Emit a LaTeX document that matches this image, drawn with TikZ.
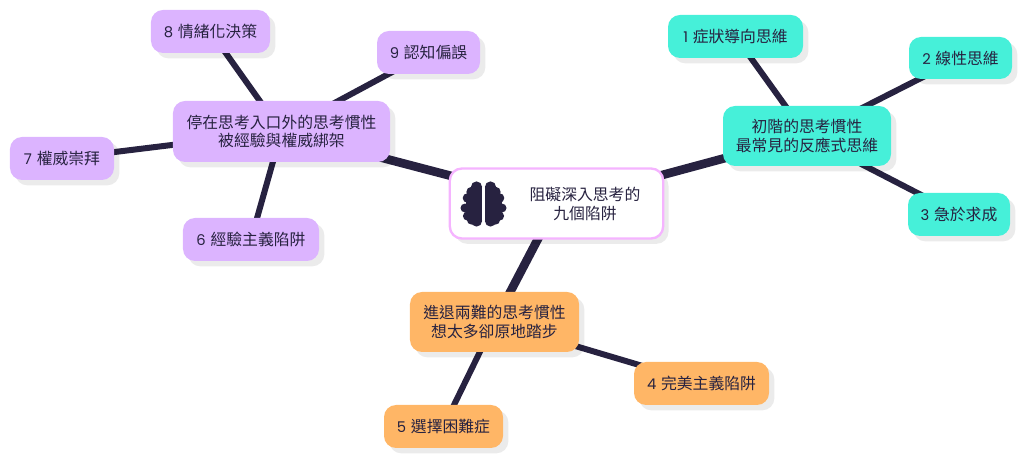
\documentclass[tikz,border=0pt]{standalone}
\usepackage{fontspec}
\setmainfont{Noto Sans CJK TC}
\newfontfamily\digitfont{Poppins}
\newcommand{\numtag}[1]{{\digitfont\fontsize{12.6}{15.6}\selectfont #1}\hspace{0.3em}}
\usetikzlibrary{shadows,backgrounds}
\definecolor{InkDark}{RGB}{39,34,64}
\definecolor{MintBox}{RGB}{70,240,217}
\definecolor{GrapeBox}{RGB}{220,180,255}
\definecolor{OrangeBox}{RGB}{255,182,102}
\definecolor{PinkEdge}{RGB}{245,180,255}
\tikzset{
  mapbox/.style={rounded corners=3.6mm,align=center,text=InkDark,inner sep=0pt,
    font=\fontsize{13.5}{15.6}\selectfont,
    drop shadow={shadow xshift=1.6mm,shadow yshift=-1.6mm,fill=black,opacity=0.08}},
  mint/.style={mapbox,fill=MintBox},
  grape/.style={mapbox,fill=GrapeBox},
  orange/.style={mapbox,fill=OrangeBox},
  mainlink/.style={line width=2.6mm,draw=InkDark},
  sublink/.style={line width=1.8mm,draw=InkDark}
}
\begin{document}
\begin{tikzpicture}[x=0.03cm,y=-0.03cm]
  \useasboundingbox (0,0) rectangle (1024,459);
  % centre
  \node[mapbox,fill=white,draw=PinkEdge,line width=0.7mm,minimum width=6.4cm,minimum height=2.1cm]
    (root) at (556.5,203.5) {};
  \node[align=center,text=InkDark,inner sep=0pt,font=\fontsize{13.5}{15.6}\selectfont]
    (rootlabel) at (585,204) {阻礙深入思考的\\九個陷阱};
  % first group
  \node[mint,minimum width=5.04cm,minimum height=1.8cm] (basic) at (807,136) {初階的思考慣性\\最常見的反應式思維};
  \node[mint,minimum width=4.05cm,minimum height=1.29cm] (n1) at (735.5,36.5) {\numtag{1}症狀導向思維};
  \node[mint,minimum width=3.09cm,minimum height=1.26cm] (n2) at (960.5,58) {\numtag{2}線性思維};
  \node[mint,minimum width=3.06cm,minimum height=1.29cm] (n3) at (959,214.5) {\numtag{3}急於求成};
  % second group
  \node[orange,minimum width=5.07cm,minimum height=1.8cm] (stuck) at (494.5,322) {進退兩難的思考慣性\\想太多卻原地踏步};
  \node[orange,minimum width=4.05cm,minimum height=1.29cm] (n4) at (701.5,383.5) {\numtag{4}完美主義陷阱};
  \node[orange,minimum width=3.57cm,minimum height=1.29cm] (n5) at (443.5,426.5) {\numtag{5}選擇困難症};
  % third group
  \node[grape,minimum width=6.51cm,minimum height=1.83cm] (entry) at (281.5,131.5) {停在思考入口外的思考慣性\\被經驗與權威綁架};
  \node[grape,minimum width=4.08cm,minimum height=1.29cm] (n6) at (251,239.5) {\numtag{6}經驗主義陷阱};
  \node[grape,minimum width=3.12cm,minimum height=1.29cm] (n7) at (62,158.5) {\numtag{7}權威崇拜};
  \node[grape,minimum width=3.57cm,minimum height=1.29cm] (n8) at (210.5,31.5) {\numtag{8}情緒化決策};
  \node[grape,minimum width=3.09cm,minimum height=1.29cm] (n9) at (428.5,52.5) {\numtag{9}認知偏誤};
  % links
  \begin{scope}[on background layer]
    \foreach \a/\b in {root/basic,root/stuck,root/entry}
      \draw[mainlink] (\a.center) -- (\b.center);
    \foreach \a/\b in {basic/n1,basic/n2,basic/n3,stuck/n4,stuck/n5,entry/n6,entry/n7,entry/n8,entry/n9}
      \draw[sublink] (\a.center) -- (\b.center);
  \end{scope}
  % brain
  \foreach \s in {1,-1} {
    \begin{scope}[shift={(483.5,0)},xscale=\s]
      \fill[InkDark] (1.7,187) rectangle (13,221);
      \fill[InkDark] (8,195) rectangle (18,215);
      \foreach \bx/\by/\br in {7/187/5.6,12/192/5.2,16/198/4.8,18.6/208/4.4,16/216/4.6,12/220/4.6,7/221/5.6}
        \fill[InkDark] (\bx,\by) circle[radius=\br];
    \end{scope}
  }
\end{tikzpicture}
\end{document}
